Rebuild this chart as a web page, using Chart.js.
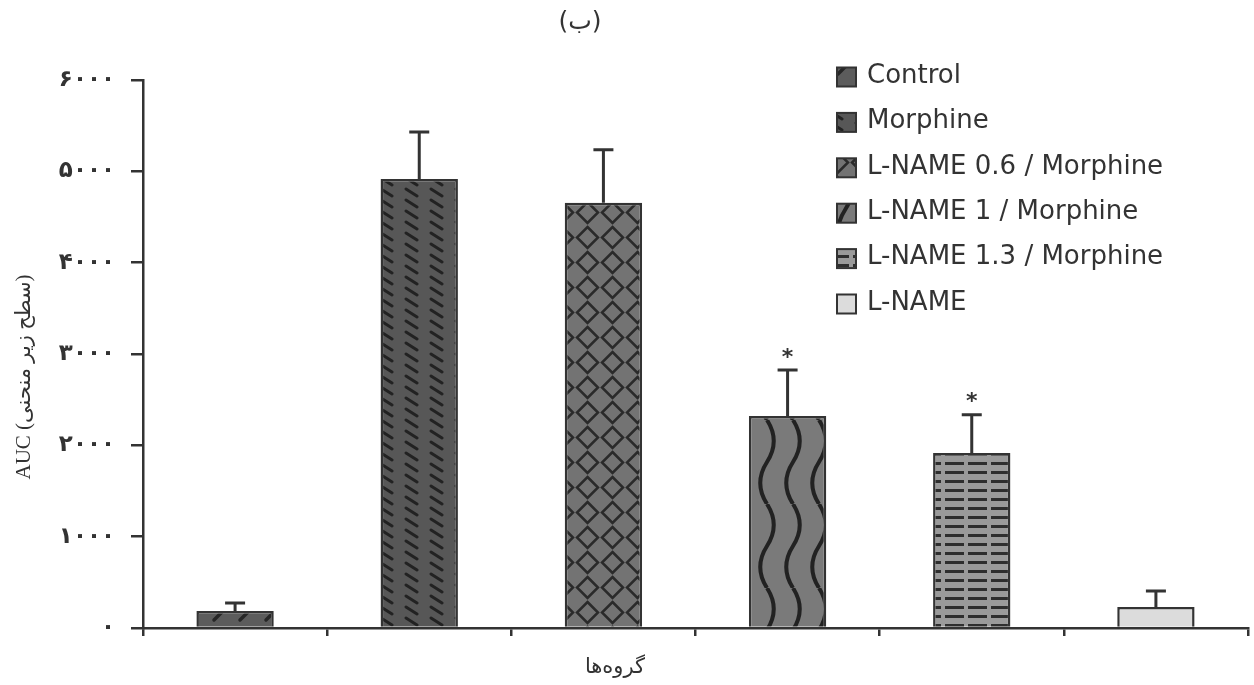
<!DOCTYPE html>
<html>
<head>
<meta charset="utf-8">
<script src="https://cdn.jsdelivr.net/npm/chart.js@4"></script>
<style>
  html, body { margin: 0; padding: 0; background: #fff; }
  #wrap { width: 1254px; height: 685px; }
</style>
</head>
<body>
<div id="wrap"><canvas id="aucchart" width="1254" height="685"></canvas></div>
<script>
// Data
const categories = ['Control', 'Morphine', 'L-NAME 0.6 / Morphine', 'L-NAME 1 / Morphine', 'L-NAME 1.3 / Morphine', 'L-NAME'];
const aucMeans = [185, 4915, 4655, 2320, 1915, 230];
const aucSem = [90, 515, 580, 505, 420, 175];
const significance = ['', '', '', '*', '*', ''];
const yTicks = [0, 1000, 2000, 3000, 4000, 5000, 6000];

const panelTitle = '(ب)';
const xTitle = 'گروه‌ها';
const yTitle = 'AUC (سطح زیر منحنی)';

const INK = '#333333';

// Persian digits for the tick labels
function faDigits(n){
    return String(n).replace(/[0-9]/g, d => '۰۱۲۳۴۵۶۷۸۹'[d]);
}

// Hatch patterns, one per group
function makePattern(w, h, draw){
    const c = document.createElement('canvas');
    c.width = w; c.height = h;
    const g = c.getContext('2d');
    draw(g, w, h);
    return g.createPattern(c, 'repeat');
}

const patterns = [
    makePattern(26, 26, (g, w, h) => {          // Control: sparse "/"
        g.fillStyle = '#5c5c5c'; g.fillRect(0, 0, w, h);
        g.strokeStyle = '#262626'; g.lineWidth = 3.5; g.lineCap = 'round';
        g.beginPath(); g.moveTo(6, 22); g.lineTo(18, 10); g.stroke();
    }),
    makePattern(25, 11, (g, w, h) => {          // Morphine: short "\" dashes
        g.fillStyle = '#575757'; g.fillRect(0, 0, w, h);
        g.strokeStyle = '#222'; g.lineWidth = 3; g.lineCap = 'round';
        g.beginPath(); g.moveTo(6, 2); g.lineTo(17, 9); g.stroke();
    }),
    makePattern(25, 25, (g, w, h) => {          // L-NAME 0.6: diamonds
        g.fillStyle = '#737373'; g.fillRect(0, 0, w, h);
        g.strokeStyle = '#2a2a2a'; g.lineWidth = 2.5;
        g.beginPath();
        g.moveTo(12.5, 2); g.lineTo(23, 12.5); g.lineTo(12.5, 23); g.lineTo(2, 12.5); g.closePath();
        g.stroke();
    }),
    makePattern(26, 84, (g, w, h) => {          // L-NAME 1: wavy verticals
        g.fillStyle = '#7a7a7a'; g.fillRect(0, 0, w, h);
        g.strokeStyle = '#222'; g.lineWidth = 4;
        g.beginPath();
        g.moveTo(13, 0);
        g.bezierCurveTo(22, 14, 22, 28, 13, 42);
        g.bezierCurveTo(4, 56, 4, 70, 13, 84);
        g.stroke();
    }),
    makePattern(23, 9, (g, w, h) => {           // L-NAME 1.3: horizontal dashes
        g.fillStyle = '#9a9a9a'; g.fillRect(0, 0, w, h);
        g.fillStyle = '#2e2e2e'; g.fillRect(2, 3, 19, 3);
    }),
    makePattern(10, 10, (g, w, h) => {          // L-NAME: plain light grey
        g.fillStyle = '#dcdcdc'; g.fillRect(0, 0, w, h);
    })
];

// Error bars + significance stars
const errorBarPlugin = {
    id: 'errorBars',
    afterDatasetsDraw(chart){
        const {ctx, scales: {y}} = chart;
        const meta = chart.getDatasetMeta(0);
        ctx.save();
        ctx.strokeStyle = INK;
        ctx.lineWidth = 3;
        meta.data.forEach((bar, i) => {
            const top = y.getPixelForValue(aucMeans[i] + aucSem[i]);
            ctx.beginPath();
            ctx.moveTo(bar.x, bar.y);
            ctx.lineTo(bar.x, top);
            ctx.moveTo(bar.x - 10, top);
            ctx.lineTo(bar.x + 10, top);
            ctx.stroke();
            if(significance[i]){
                ctx.fillStyle = INK;
                ctx.font = 'bold 22px "DejaVu Sans"';
                ctx.textAlign = 'center';
                ctx.textBaseline = 'middle';
                ctx.fillText(significance[i], bar.x, top - 12);
            }
        });
        ctx.restore();
    }
};

// Titles (placed off-centre as in the source figure) and the vertical legend
const annotatePlugin = {
    id: 'annotate',
    afterDraw(chart){
        const ctx = chart.ctx;
        ctx.save();
        ctx.fillStyle = INK;
        ctx.textAlign = 'center';
        ctx.textBaseline = 'middle';

        ctx.font = '25px "DejaVu Sans"';
        ctx.fillText(panelTitle, 580, 22);

        ctx.font = '21px "DejaVu Sans"';
        ctx.fillText(xTitle, 615, 668);

        ctx.save();
        ctx.translate(24, 377);
        ctx.rotate(-Math.PI / 2);
        ctx.font = '21px "Liberation Serif", "DejaVu Sans"';
        ctx.fillText(yTitle, 0, 0);
        ctx.restore();

        // legend
        const x0 = 837, y0 = 76, step = 45.4, box = 19;
        ctx.font = '26px "DejaVu Sans"';
        ctx.textAlign = 'left';
        categories.forEach((label, i) => {
            const cy = y0 + i * step;
            ctx.fillStyle = patterns[i];
            ctx.fillRect(x0, cy - box / 2 + 1, box, box);
            ctx.strokeStyle = INK; ctx.lineWidth = 2;
            ctx.strokeRect(x0, cy - box / 2 + 1, box, box);
            ctx.fillStyle = INK;
            ctx.fillText(label, x0 + 30, cy);
        });
        ctx.restore();
    }
};

new Chart(document.getElementById('aucchart'), {
    type: 'bar',
    data: {
        labels: categories,
        datasets: [{
            data: aucMeans,
            backgroundColor: patterns,
            borderColor: INK,
            borderWidth: 2.5,
            barPercentage: 0.42,
            categoryPercentage: 1
        }]
    },
    options: {
        responsive: false,
        animation: false,
        layout: { padding: { top: 80, right: 6, bottom: 0, left: 0 } },
        plugins: {
            legend: { display: false },
            tooltip: { enabled: false },
            title: { display: false }
        },
        scales: {
            x: {
                grid: { offset: true, drawOnChartArea: false, tickLength: 8, color: INK, lineWidth: 2.5 },
                border: { color: INK, width: 2.5 },
                ticks: { display: false },
                afterFit: s => { s.height = 57; }
            },
            y: {
                min: 0,
                max: 6000,
                afterBuildTicks: s => { s.ticks = yTicks.map(v => ({ value: v })); },
                grid: { drawOnChartArea: false, tickLength: 12, color: INK, lineWidth: 2.5 },
                border: { color: INK, width: 2.5 },
                ticks: {
                    padding: 16,
                    color: INK,
                    font: { family: 'DejaVu Sans', size: 23, weight: 'bold' },
                    callback: v => faDigits(v)
                },
                afterFit: s => { s.width = 143; }
            }
        }
    },
    plugins: [errorBarPlugin, annotatePlugin]
});
</script>
</body>
</html>
